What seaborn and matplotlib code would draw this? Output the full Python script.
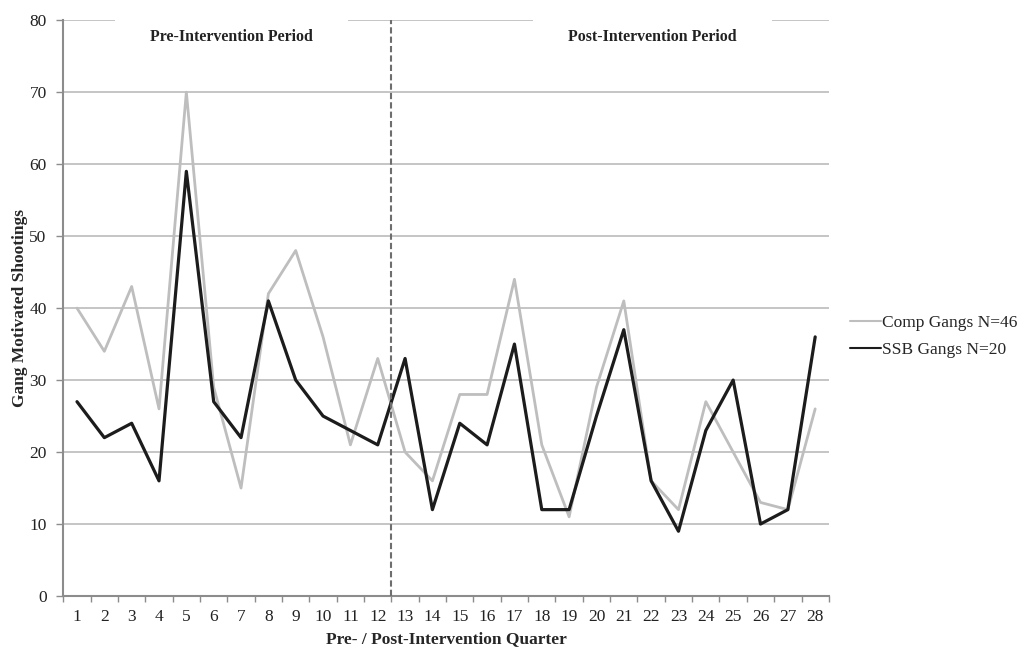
import matplotlib
matplotlib.use('Agg')
import matplotlib.pyplot as plt
import pandas as pd
import seaborn as sns

# Data
quarters = list(range(1, 29))
comp_gangs = [40, 34, 43, 26, 70, 29, 15, 42, 48, 36, 21, 33, 20, 16,
              28, 28, 44, 21, 11, 29, 41, 16, 12, 27, 20, 13, 12, 26]
ssb_gangs = [27, 22, 24, 16, 59, 27, 22, 41, 30, 25, 23, 21, 33, 12,
             24, 21, 35, 12, 12, 25, 37, 16, 9, 23, 30, 10, 12, 36]
series_names = ['Comp Gangs N=46', 'SSB Gangs N=20']
y_ticks = [0, 10, 20, 30, 40, 50, 60, 70, 80]

df = pd.DataFrame({
    'quarter': quarters * 2,
    'value': comp_gangs + ssb_gangs,
    'group': [series_names[0]] * len(quarters) + [series_names[1]] * len(quarters),
})

sns.set_style('white')
plt.rcParams['font.family'] = ['Liberation Serif', 'DejaVu Serif']

fig = plt.figure(figsize=(10.18, 6.47), dpi=100)
ax = fig.add_axes([0.0622, 0.0788, 0.752, 0.890])

axis_grey = '#8c8c8c'
ax.set_axisbelow(True)
ax.yaxis.grid(True, color='#c0c0c0', lw=1.3)

sns.lineplot(data=df, x='quarter', y='value', hue='group', hue_order=series_names,
             palette={series_names[0]: '#bebebe', series_names[1]: '#1c1c1c'},
             ax=ax, legend=True)
ax.lines[0].set_linewidth(2.0)
ax.lines[1].set_linewidth(2.3)

# boundary between the two periods
ax.axvline(12.5, color='#6e6e6e', ls=(0, (3, 1.5)), lw=1.5, zorder=4)

ax.set_xlim(0.5, 28.5)
ax.set_ylim(0, 80)
ax.set_yticks(y_ticks)
ax.set_xticks(quarters)
ax.set_xticks([q + 0.5 for q in range(0, 29)], minor=True)
ax.tick_params(axis='x', which='major', length=0, pad=9, labelsize=12.5, colors='#222222')
ax.tick_params(axis='x', which='minor', length=4, width=1, color=axis_grey, direction='out', bottom=True)
ax.tick_params(axis='y', length=5, width=1, color=axis_grey, direction='out', left=True,
               pad=7, labelsize=12.5, labelcolor='#222222')

for side in ['top', 'right']:
    ax.spines[side].set_visible(False)
for side in ['left', 'bottom']:
    ax.spines[side].set_color(axis_grey)
    ax.spines[side].set_linewidth(1.5)

ax.set_xlabel('Pre- / Post-Intervention Quarter', fontsize=12.5, fontweight='bold', labelpad=5)
ax.set_ylabel('Gang Motivated Shootings', fontsize=12.5, fontweight='bold')
ax.yaxis.set_label_coords(-0.0465, 0.5)

box = dict(facecolor='white', edgecolor='none', boxstyle='square,pad=2.2')
ax.text(6.65, 77.6, 'Pre-Intervention Period', ha='center', va='center',
        fontsize=11.4, fontweight='bold', color='#222222', bbox=box, zorder=5)
ax.text(22.05, 77.6, 'Post-Intervention Period', ha='center', va='center',
        fontsize=11.4, fontweight='bold', color='#222222', bbox=box, zorder=5)

ax.legend(loc='center left', bbox_to_anchor=(1.019, 0.451), frameon=False,
          fontsize=12.5, handlelength=1.75, handletextpad=0.05, labelspacing=0.6,
          borderaxespad=0)

fig.savefig('out.png', dpi=100)
